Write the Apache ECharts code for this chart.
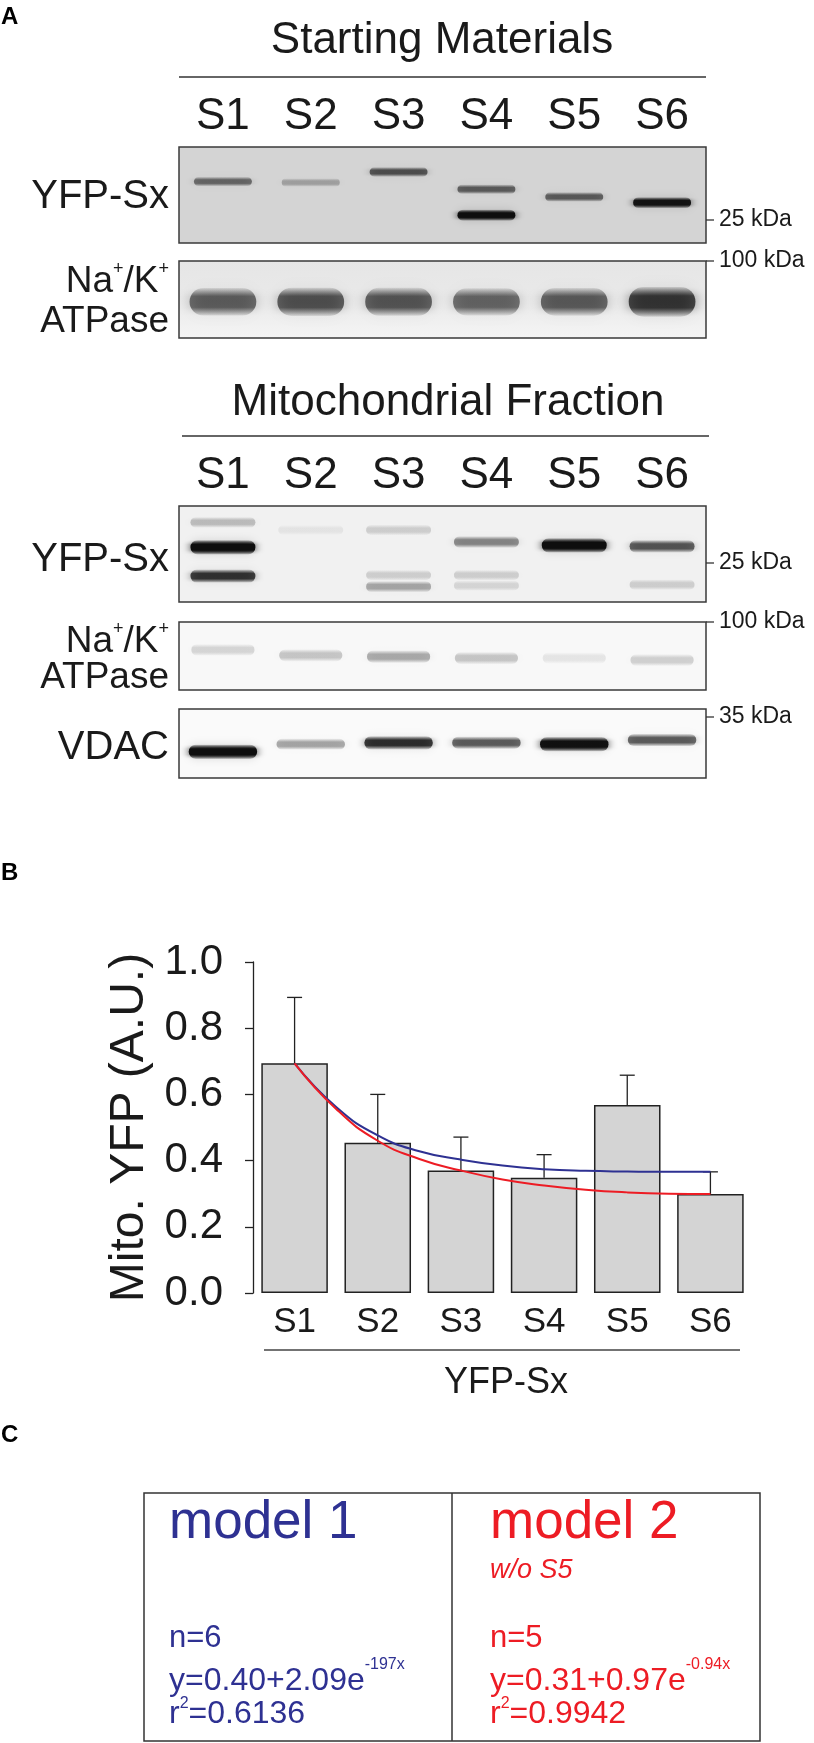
<!DOCTYPE html>
<html><head><meta charset="utf-8">
<script src="https://cdn.jsdelivr.net/npm/echarts@6/dist/echarts.min.js"></script>
<style>html,body{margin:0;padding:0;background:#fff}#c{width:814px;height:1743px}</style>
</head><body><div id="c"></div>
<script>
// ---------- data ----------
const lanes = ['S1','S2','S3','S4','S5','S6'];
// blot bands: [lane index, relative migration (0 = top of membrane, 1 = bottom), band intensity]
const startYfpBands = [[0,0.36,0.5],[1,0.37,0.25],[2,0.26,0.6],[3,0.44,0.55],[3,0.71,1.0],[4,0.52,0.55],[5,0.58,0.95]];
const startNakBands = [[0,0.53,0.55],[1,0.53,0.6],[2,0.53,0.58],[3,0.53,0.52],[4,0.53,0.56],[5,0.53,0.72]];
const mitoYfpBands = [[0,0.17,0.22],[0,0.43,1.0],[0,0.73,0.75],[1,0.25,0.06],[2,0.25,0.15],[2,0.72,0.15],[2,0.84,0.3],
                      [3,0.375,0.42],[3,0.72,0.15],[3,0.83,0.12],[4,0.41,1.0],[5,0.42,0.6],[5,0.82,0.15]];
const mitoNakBands = [[0,0.41,0.14],[1,0.49,0.2],[2,0.51,0.3],[3,0.53,0.2],[4,0.53,0.08],[5,0.56,0.16]];
const vdacBands = [[0,0.62,1.0],[1,0.51,0.32],[2,0.49,0.78],[3,0.49,0.58],[4,0.51,0.97],[5,0.45,0.58]];

const barCategories = ['S1','S2','S3','S4','S5','S6'];
const meanYfp = [0.694, 0.454, 0.370, 0.348, 0.568, 0.299];
const upperYfp = [0.893, 0.600, 0.471, 0.418, 0.658, 0.366];
const yTicks = [0, 0.2, 0.4, 0.6, 0.8, 1.0];
const fitX = [1, 1.5, 2, 2.5, 3, 3.5, 4, 4.5, 5, 5.5, 6];
const model1Fit = [0.694, 0.562, 0.476, 0.428, 0.403, 0.385, 0.374, 0.369, 0.367, 0.366, 0.366];
const model2Fit = [0.694, 0.556, 0.460, 0.405, 0.370, 0.343, 0.325, 0.312, 0.304, 0.300, 0.299];

// ---------- styling ----------
const FF = '"Liberation Sans", Arial, Helvetica, sans-serif';
const INK = '#1a1a1a';
const BLUE = '#2e3192';
const RED = '#ed1c24';

const chart = echarts.init(document.getElementById('c'), null, {renderer: 'canvas'});

const blotGrids = [
  {top:147, height:96, bg: '#d4d4d4', labels:true},
  {top:261, height:77, bg: new echarts.graphic.LinearGradient(0,0,0,1,[{offset:0,color:'#e6e6e6'},{offset:0.5,color:'#e9e9e9'},{offset:1,color:'#f5f5f5'}]), labels:false},
  {top:506, height:96, bg: '#f1f1f1', labels:true},
  {top:622, height:68, bg: '#f8f8f8', labels:false},
  {top:709, height:69, bg: '#fafafa', labels:false}
];

const grids = blotGrids.map(g => ({left:179, width:527, top:g.top, height:g.height, show:true,
  backgroundColor:g.bg, borderColor:'#3a3a3a', borderWidth:1.5, outerBoundsMode:'none', containLabel:false}));
grids.push({left:253, top:962, width:499, height:331, show:false, outerBoundsMode:'none', containLabel:false});

const xAxes = blotGrids.map((g,i) => ({gridIndex:i, type:'category', data:lanes, position:'top',
  axisLine:{show:false}, axisTick:{show:false}, splitLine:{show:false},
  axisLabel:{show:g.labels, fontSize:44, color:INK, fontFamily:FF, margin:8}}));
const yAxes = blotGrids.map((g,i) => ({gridIndex:i, type:'value', min:0, max:1, inverse:true, show:false}));

// bar chart axes
xAxes.push({gridIndex:5, type:'category', data:barCategories, axisLine:{show:false}, axisTick:{show:false},
  axisLabel:{fontSize:35, color:INK, fontFamily:FF, margin:12}});
xAxes.push({gridIndex:5, type:'value', min:0.5, max:6.5, show:false});
yAxes.push({gridIndex:5, type:'value', min:yTicks[0], max:yTicks[yTicks.length-1], interval:0.2,
  axisLine:{show:true, lineStyle:{color:'#222', width:1.3}},
  axisTick:{show:true, length:8, inside:false, lineStyle:{color:'#222', width:1.3}},
  splitLine:{show:false},
  axisLabel:{fontSize:42, color:INK, fontFamily:FF, margin:30, formatter:v => v.toFixed(1)},
  name:'Mito. YFP (A.U.)', nameLocation:'middle', nameRotate:90, nameGap:92,
  nameTextStyle:{fontSize:48, color:INK, fontFamily:FF}});

function ink(a) { return 'rgba(14,14,14,' + Math.max(0, Math.min(1, a)) + ')'; }
function bandSeries(idx, data, thick, widthFrac, blur) {
  return {type:'custom', xAxisIndex:idx, yAxisIndex:idx, data, clip:true, silent:true, z:3,
    renderItem(params, api) {
      const c = api.coord([api.value(0), api.value(1)]);
      const a = api.value(2);
      const w = api.size([1,0])[0] * widthFrac;
      const h = thick * (0.7 + 0.4 * a);
      return {type:'rect', shape:{x:c[0]-w/2, y:c[1]-h/2, width:w, height:h, r:h/2},
        style:{fill:{type:'linear', x:0, y:0, x2:0, y2:1, colorStops:[
            {offset:0, color:ink(a*0.15)}, {offset:0.3, color:ink(a)}, {offset:0.7, color:ink(a)}, {offset:1, color:ink(a*0.15)}]},
          shadowBlur: blur, shadowColor: ink(a*0.85)}};
    }};
}

const series = [
  bandSeries(0, startYfpBands, 10, 0.66, 8),
  bandSeries(1, startNakBands, 30, 0.76, 14),
  bandSeries(2, mitoYfpBands, 13, 0.74, 8),
  bandSeries(3, mitoNakBands, 15, 0.72, 10),
  bandSeries(4, vdacBands, 13, 0.78, 8),
  {type:'bar', xAxisIndex:5, yAxisIndex:5, data:meanYfp, barCategoryGap:'20%', z:2,
    itemStyle:{color:'#d4d4d4', borderColor:'#222', borderWidth:1.5}},
  {type:'custom', xAxisIndex:5, yAxisIndex:5, z:3, silent:true,
    data: barCategories.map((c,i) => [i, meanYfp[i], upperYfp[i]]),
    renderItem(params, api) {
      const p0 = api.coord([api.value(0), api.value(1)]);
      const p1 = api.coord([api.value(0), api.value(2)]);
      const hw = 7.5;
      const st = {stroke:'#222', lineWidth:1.3};
      return {type:'group', children:[
        {type:'line', shape:{x1:p0[0], y1:p0[1], x2:p1[0], y2:p1[1]}, style:st},
        {type:'line', shape:{x1:p1[0]-hw, y1:p1[1], x2:p1[0]+hw, y2:p1[1]}, style:st}]};
    }},
  {type:'line', xAxisIndex:6, yAxisIndex:5, z:4, smooth:true, showSymbol:false, silent:true,
    data: fitX.map((x,i) => [x, model1Fit[i]]), lineStyle:{color:BLUE, width:2}},
  {type:'line', xAxisIndex:6, yAxisIndex:5, z:5, smooth:true, showSymbol:false, silent:true,
    data: fitX.map((x,i) => [x, model2Fit[i]]), lineStyle:{color:RED, width:2}}
];

// ---------- annotations ----------
function T(x, y, text, size, extra) {
  return {type:'text', x, y, z:100, silent:true,
    style: Object.assign({text, fontSize:size, fontFamily:FF, fill:INK, align:'left', verticalAlign:'middle'}, extra || {})};
}
function L(x1, y1, x2, y2, color, w) {
  return {type:'line', z:100, silent:true, shape:{x1, y1, x2, y2}, style:{stroke:color || '#333', lineWidth:w || 1.5}};
}
function kda(y, label) {
  return [L(706, y, 714, y, '#333', 1.3), T(719, y, label, 23)];
}
function naK(y) {
  return {type:'text', x:169, y, z:100, silent:true, style:{
    text:'{m|Na}{s|+}{m|/K}{s|+}', align:'right', verticalAlign:'middle', fill:INK,
    rich:{m:{fontSize:37, fontFamily:FF, fill:INK, lineHeight:40, verticalAlign:'bottom'},
          s:{fontSize:18, fontFamily:FF, fill:INK, verticalAlign:'top'}}}};
}
function sup(x, y, parts, color, lh) {
  // parts: array of [text, isSuperscript]
  const text = parts.map(p => (p[1] ? '{s|' : '{m|') + p[0] + '}').join('');
  return {type:'text', x, y, z:100, silent:true, style:{
    text, align:'left', verticalAlign:'middle', fill:color,
    rich:{m:{fontSize:32, fontFamily:FF, fill:color, lineHeight:lh, verticalAlign:'bottom'},
          s:{fontSize:16, fontFamily:FF, fill:color, verticalAlign:'top'}}}};
}

const graphics = [
  T(1, 17, 'A', 24, {fontWeight:'bold', fill:'#000'}),
  T(442, 41, 'Starting Materials', 44, {align:'center'}),
  L(179, 77, 706, 77, '#333', 1.5),
  T(169, 197, 'YFP-Sx', 40, {align:'right'}),
  ...kda(220, '25 kDa'),
  naK(280),
  T(169, 322, 'ATPase', 37, {align:'right'}),
  ...kda(261, '100 kDa'),
  T(448, 403, 'Mitochondrial Fraction', 44, {align:'center'}),
  L(182, 436, 709, 436, '#333', 1.5),
  T(169, 560, 'YFP-Sx', 40, {align:'right'}),
  ...kda(563, '25 kDa'),
  naK(640),
  T(169, 678, 'ATPase', 37, {align:'right'}),
  ...kda(622, '100 kDa'),
  T(169, 748, 'VDAC', 40, {align:'right'}),
  ...kda(717, '35 kDa'),

  T(1, 873, 'B', 24, {fontWeight:'bold', fill:'#000'}),
  L(264, 1350, 740, 1350, '#444', 1.5),
  T(506, 1383, 'YFP-Sx', 36, {align:'center'}),

  T(1, 1435, 'C', 24, {fontWeight:'bold', fill:'#000'}),
  {type:'rect', z:100, silent:true, shape:{x:144, y:1493, width:616, height:248}, style:{fill:'none', stroke:'#333', lineWidth:1.5}},
  L(452, 1493, 452, 1741, '#333', 1.5),
  T(169, 1523, 'model 1', 53, {fill:BLUE}),
  T(490, 1523, 'model 2', 53, {fill:RED}),
  T(490, 1570, 'w/o S5', 27, {fill:RED, fontStyle:'italic'}),
  T(169, 1638, 'n=6', 31, {fill:BLUE}),
  T(490, 1638, 'n=5', 31, {fill:RED}),
  sup(169, 1677, [['y=0.40+2.09e',0],['-197x',1]], BLUE, 40),
  sup(490, 1677, [['y=0.31+0.97e',0],['-0.94x',1]], RED, 40),
  sup(169, 1713, [['r',0],['2',1],['=0.6136',0]], BLUE, 34),
  sup(490, 1713, [['r',0],['2',1],['=0.9942',0]], RED, 34)
];

chart.setOption({
  animation:false,
  backgroundColor:'#ffffff',
  textStyle:{fontFamily:FF},
  grid:grids, xAxis:xAxes, yAxis:yAxes, series, graphic:graphics
});
</script></body></html>
